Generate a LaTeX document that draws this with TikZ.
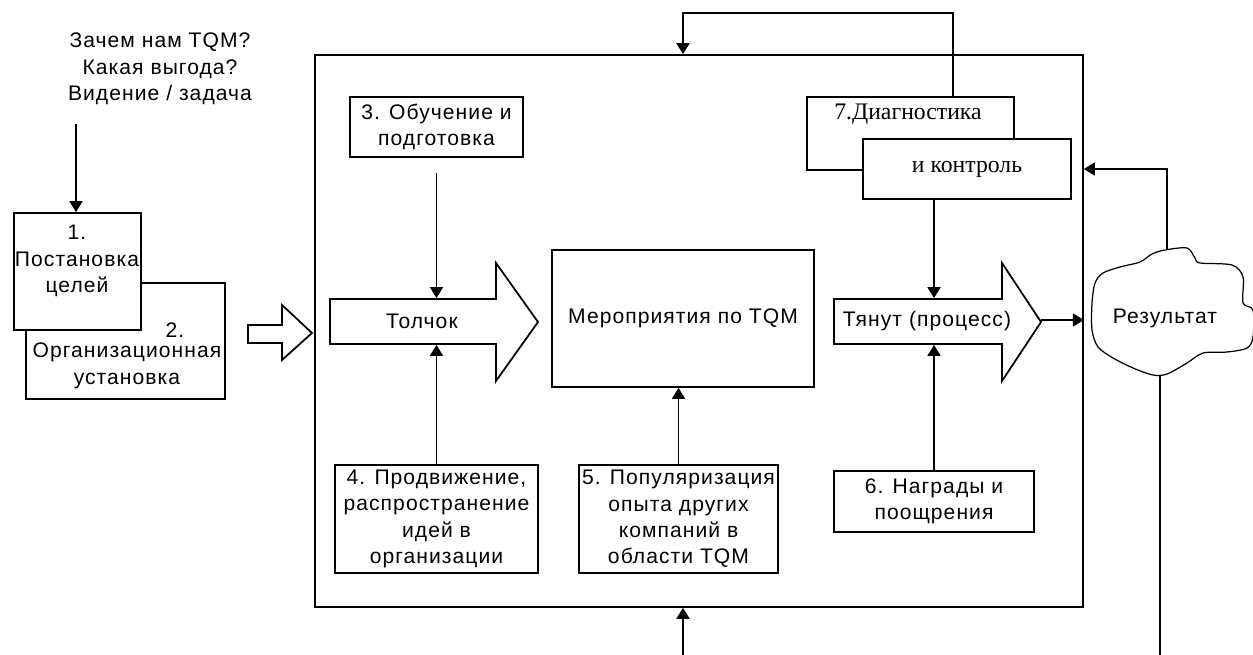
\documentclass[tikz,border=0pt]{standalone}
\usepackage{fontspec}
\setmainfont[LetterSpace=5]{Liberation Sans}
\newfontfamily\timesfont{Liberation Serif}
\usetikzlibrary{arrows.meta}

\tikzset{
  box/.style={draw, fill=white, inner sep=0pt, align=center},
  txt/.style={align=center, inner sep=0pt},
  shaft/.style={inner sep=0pt, minimum height=0.9cm},
}

\begin{document}
\begin{tikzpicture}[x=0.02cm, y=-0.02cm, line width=1pt, >={Triangle[width=0.26cm,length=0.22cm]},
    font=\fontsize{12pt}{15pt}\selectfont]
  \useasboundingbox (0,0) rectangle (1253,655);

  % goals and attitude
  \node[txt] (why) at (160,69) {Зачем нам TQM?\\Какая выгода?\\Видение / задача};
  \node[box, minimum width=3.98cm, minimum height=2.32cm] (b2) at (125.5,341) {};
  \node[box, minimum width=2.54cm, minimum height=2.34cm] (b1) at (77.5,271.5) {};
  \node[txt] (t1) at (77,261) {1.\\Постановка\\целей};
  \node[txt] (t2a) at (175,330) {2.};
  \node[txt] (t2b) at (127,366) {Организационная\\установка};
  \coordinate (q) at (76,124);
  \draw[->] (q) -- (q |- b1.north);
  \draw (248,325) -- (282,325) -- (282,305) -- (312,333) -- (282,360) -- (282,343) -- (248,343) -- cycle;

  % frame
  \node[box, fill=none, minimum width=15.36cm, minimum height=11.04cm] (main) at (699,331) {};

  % left part: push
  \node[box, minimum width=3.46cm, minimum height=1.2cm] (b3) at (436.5,127) {3. Обучение и\\подготовка};
  \node[box, minimum width=4.06cm, minimum height=2.16cm] (b4) at (436.5,519)
    {4. Продвижение,\\распространение\\идей в\\организации};
  \draw (330,299) -- (496,299) -- (496,263) -- (538,322) -- (496,381) -- (496,344) -- (330,344) -- cycle;
  \node[shaft] (push) at (422,321.5) {Толчок};
  \draw[->, shorten <=0.3cm] (b3.south) -- (b3.south |- push.north);
  \draw[->] (b4.north) -- (b4.north |- push.south);

  % centre
  \node[box, minimum width=5.24cm, minimum height=2.74cm] (tqm) at (683,318.5) {Мероприятия по TQM};
  \node[box, minimum width=3.98cm, minimum height=2.16cm] (b5) at (678.5,519)
    {5. Популяризация\\опыта других\\компаний в\\области TQM};
  \draw[->] (b5.north) -- (b5.north |- tqm.south);
  \coordinate (bin) at (683,655);
  \draw[->] (bin) -- (bin |- main.south);

  % right part: pull
  \node[box, minimum width=4.14cm, minimum height=1.46cm] (b7a) at (910.5,133.5) {};
  \node[txt, font=\timesfont\fontsize{13.5pt}{15pt}\selectfont] (t7a) at (908,114) {7.Диагностика};
  \node[box, minimum width=4.16cm, minimum height=1.2cm, font=\timesfont\fontsize{13.5pt}{15pt}\selectfont]
    (b7b) at (967,169) {и контроль};
  \node[box, minimum width=4cm, minimum height=1.22cm] (b6) at (934,501.5) {6. Награды и\\поощрения};
  \draw (834,299) -- (1002,299) -- (1002,263) -- (1041,322) -- (1002,381) -- (1002,344) -- (834,344) -- cycle;
  \node[shaft] (pull) at (927,321.5) {Тянут (процесс)};
  \draw[->] (b6.north |- b7b.south) -- (b6.north |- pull.north);
  \draw[->] (b6.north) -- (b6.north |- pull.south);
  \coordinate (tip) at (1041,320);
  \draw[->] (tip) -- (tip -| main.east);

  % feedback over the frame
  \coordinate (fb) at (953,13);
  \draw[->] (fb |- b7a.north) -- (fb) -| (tqm |- main.north);

  % result
  \draw[line width=0.7pt] plot[smooth cycle, tension=0.5] coordinates {
    (1165,250) (1187,248) (1195,258) (1200,263) (1232,265) (1243,277) (1243,303)
    (1253,310) (1253,337) (1247,348) (1227,352) (1203,353) (1187,363) (1167,374)
    (1153,375) (1133,368) (1113,358) (1098,347) (1092,330) (1092,303) (1095,283)
    (1103,273) (1120,267) (1140,262) (1152,254)};
  \node[txt] (res) at (1165,318) {Результат};
  \coordinate (ctop) at (1167,249);
  \coordinate (cbot) at (1160,375);
  \draw[->] (ctop) |- (main.east |- b7b.center);
  \draw (cbot) -- (cbot |- 0,655);
\end{tikzpicture}
\end{document}
